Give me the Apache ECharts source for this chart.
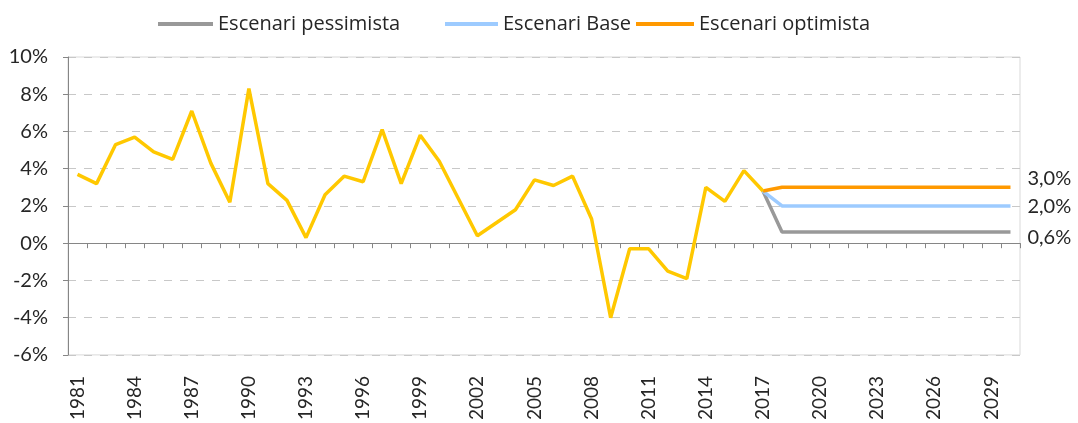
<!DOCTYPE html>
<html>
<head>
<meta charset="utf-8">
<script src="https://cdn.jsdelivr.net/npm/echarts@6/dist/echarts.min.js"></script>
<style>
  html, body { margin: 0; padding: 0; background: #fff; }
  #chart { width: 1078px; height: 423px; }
</style>
</head>
<body>
<div id="chart"></div>
<script>
var years = ['1981','1982','1983','1984','1985','1986','1987','1988','1989','1990',
  '1991','1992','1993','1994','1995','1996','1997','1998','1999','2000',
  '2001','2002','2003','2004','2005','2006','2007','2008','2009','2010',
  '2011','2012','2013','2014','2015','2016','2017','2018','2019','2020',
  '2021','2022','2023','2024','2025','2026','2027','2028','2029','2030'];

// creixement historic 1981-2017 (%)
var historic = [3.7, 3.2, 5.3, 5.7, 4.9, 4.5, 7.1, 4.3, 2.2, 8.3,
  3.2, 2.3, 0.3, 2.6, 3.6, 3.3, 6.1, 3.2, 5.8, 4.4,
  2.4, 0.4, 1.1, 1.8, 3.4, 3.1, 3.6, 1.3, -4.0, -0.3,
  -0.3, -1.5, -1.9, 3.0, 2.25, 3.9, 2.8];

// escenaris 2017-2030 (%)
var pessimista = [2.8, 0.6, 0.6, 0.6, 0.6, 0.6, 0.6, 0.6, 0.6, 0.6, 0.6, 0.6, 0.6, 0.6];
var base       = [2.8, 2.0, 2.0, 2.0, 2.0, 2.0, 2.0, 2.0, 2.0, 2.0, 2.0, 2.0, 2.0, 2.0];
var optimista  = [2.8, 3.0, 3.0, 3.0, 3.0, 3.0, 3.0, 3.0, 3.0, 3.0, 3.0, 3.0, 3.0, 3.0];

var startIdx = years.indexOf('2017');
function pad(arr) {
    var out = [];
    for (var i = 0; i < startIdx; i++) out.push('-');
    return out.concat(arr);
}
function endLbl(dy) {
    return {
        show: true,
        distance: 17,
        offset: [0, dy],
        color: '#262626',
        fontSize: 20,
        fontFamily: 'Lato',
        formatter: function (p) {
            var v = Array.isArray(p.value) ? p.value[1] : p.value;
            return Number(v).toFixed(1).replace('.', ',') + '%';
        }
    };
}

var myChart = echarts.init(document.getElementById('chart'));

var legendText = { fontSize: 20, color: '#262626', fontFamily: 'Open Sans' };
var option = {
    animation: false,
    textStyle: { fontFamily: 'Lato' },
    legend: [
        { data: ['Escenari pessimista'], left: 153, top: 9, icon: 'rect', itemWidth: 55, itemHeight: 4, textStyle: legendText },
        { data: ['Escenari Base'], left: 440, top: 9, icon: 'rect', itemWidth: 53, itemHeight: 4, textStyle: legendText },
        { data: ['Escenari optimista'], left: 631, top: 9, icon: 'rect', itemWidth: 58, itemHeight: 4, textStyle: legendText }
    ],
    grid: {
        left: 68, right: 58, top: 57, bottom: 66,
        show: true, borderColor: '#d9d9d9', borderWidth: 1
    },
    xAxis: [
        {
            type: 'category',
            data: years,
            axisLine: { onZero: true, lineStyle: { color: '#868686', width: 1 } },
            axisTick: { show: true, interval: 0, length: 5, lineStyle: { color: '#868686' } },
            axisLabel: { show: false },
            splitLine: { show: false }
        },
        {
            type: 'category',
            data: years,
            position: 'bottom',
            axisLine: { show: false, onZero: false },
            axisTick: { show: false },
            axisLabel: { interval: 2, rotate: 90, margin: 21, fontSize: 19, color: '#262626' },
            splitLine: { show: false }
        }
    ],
    yAxis: {
        type: 'value',
        min: -6, max: 10, interval: 2,
        axisLine: { show: true, lineStyle: { color: '#868686' } },
        axisTick: { show: true, length: 5, lineStyle: { color: '#868686' } },
        axisLabel: { formatter: '{value}%', fontSize: 20, color: '#262626', margin: 20 },
        splitLine: { lineStyle: { color: '#c8c8c8', type: [8, 8], width: 1 } }
    },
    series: [
        {
            name: 'Escenari pessimista', type: 'line', data: pad(pessimista),
            symbol: 'none', color: '#999999', lineStyle: { width: 3.5 },
            endLabel: endLbl(6)
        },
        {
            name: 'Escenari Base', type: 'line', data: pad(base),
            symbol: 'none', color: '#9dcbff', lineStyle: { width: 3.5 },
            endLabel: endLbl(1)
        },
        {
            name: 'Escenari optimista', type: 'line', data: pad(optimista),
            symbol: 'none', color: '#ff9900', lineStyle: { width: 3.5 },
            endLabel: endLbl(-9)
        },
        {
            name: 'Historic', type: 'line', data: historic,
            symbol: 'none', color: '#ffc800', lineStyle: { width: 3.5 }
        }
    ]
};
myChart.setOption(option);
</script>
</body>
</html>
